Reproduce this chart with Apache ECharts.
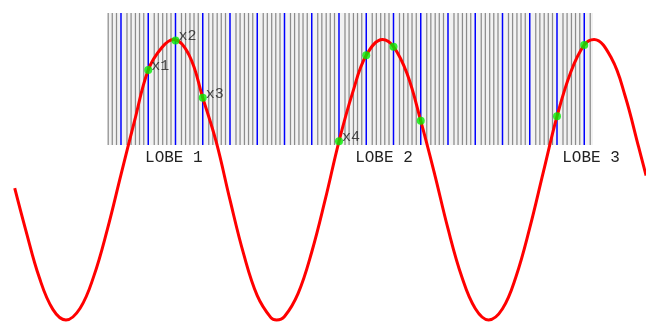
<!DOCTYPE html>
<html><head><meta charset="utf-8">
<script src="https://cdn.jsdelivr.net/npm/echarts@6/dist/echarts.min.js"></script>
<style>html,body{margin:0;padding:0;background:#fff}#c{width:646px;height:322px}</style>
</head><body><div id="c"></div>
<script>
// Curve samples (x in stripe-grid units, y in amplitude units)
const curveX = [-2.9,-2.5,-2,-1.5,-1.02,-0.5,0,0.5,1,1.5,2,2.5,2.93,3.5,4,4.5,5,5.5,6,6.5,6.71,7,7.5,8,8.5,9,9.5,10,10.6,11,11.5,12,12.5,13,13.5,14,14.49,15,15.5,16,16.5,17,17.5,18,18.36,19,19.5,20,20.27];
const curveY = [-0.06,-0.355,-0.696,-0.924,-1,-0.916,-0.689,-0.354,0.036,0.421,0.783,0.943,1,0.889,0.585,0.266,-0.144,-0.529,-0.826,-0.983,-1,-0.975,-0.81,-0.515,-0.137,0.274,0.621,0.887,1,0.949,0.755,0.42,0.048,-0.349,-0.688,-0.918,-1,-0.92,-0.688,-0.344,0.056,0.452,0.765,0.961,1,0.866,0.597,0.23,0.03];

// Marked points
const pointX = [2,3,4,9,10,11,12,17,18];
const pointY = [0.783,0.993,0.585,0.274,0.887,0.949,0.42,0.452,0.961];
const pointLabels = ['x1','x2','x3','x4','','','','',''];

// Lobe labels
const lobeNames = ['LOBE 1','LOBE 2','LOBE 3'];
const lobeX = [2.94,10.65,18.25];

// Stripe band
const stripeStart = 0.52, stripeEnd = 18.32;
const blueTicks = [1,2,3,4,5,6,7,8,9,10,11,12,13,14,15,16,17,18];
const grayOffsets = [0.22,0.37,0.53,0.68,0.835];

const grayTicks = [];
for (let b = 0; b <= 18; b++) {
  grayOffsets.forEach(o => { const p = b + o; if (p >= stripeStart && p <= stripeEnd) grayTicks.push(p); });
}

const BAND_TOP = 13, BAND_BOTTOM = 145, LOBE_LABEL_Y = 158;
const MONO = "'Courier New', 'Liberation Mono', monospace";

const chart = echarts.init(document.getElementById('c'), null, {renderer: 'canvas'});
chart.setOption({
  animation: false,
  grid: {left: 0, right: 0, top: 0, bottom: 0},
  xAxis: {type: 'value', min: -3.440, max: 20.266, show: false},
  yAxis: {type: 'value', min: -1.0143, max: 1.2816, show: false},
  series: [
    {
      type: 'custom', z: 1, silent: true, clip: false,
      data: [[stripeStart, stripeEnd]],
      renderItem: (params, api) => {
        const x0 = api.coord([api.value(0), 0])[0];
        const x1 = api.coord([api.value(1), 0])[0];
        return {type: 'rect', shape: {x: x0, y: BAND_TOP, width: x1 - x0, height: BAND_BOTTOM - BAND_TOP}, style: {fill: '#f2f2f2'}};
      }
    },
    {
      type: 'custom', z: 2, silent: true, clip: false,
      data: grayTicks.map(v => [v, 0]).concat(blueTicks.map(v => [v, 1])),
      renderItem: (params, api) => {
        const x = api.coord([api.value(0), 0])[0];
        const blue = api.value(1) === 1;
        return {type: 'line', shape: {x1: x, y1: BAND_TOP, x2: x, y2: BAND_BOTTOM},
          style: {stroke: blue ? '#0000ff' : '#8c8c8c', lineWidth: blue ? 1.5 : 1.25}};
      }
    },
    {
      type: 'custom', z: 2, silent: true, clip: false,
      data: lobeX.map((x, i) => [x, i]),
      renderItem: (params, api) => {
        const x = api.coord([api.value(0), 0])[0];
        return {type: 'text', x: x, y: LOBE_LABEL_Y,
          style: {text: lobeNames[api.value(1)], font: '16px ' + MONO, fill: '#222', align: 'center', verticalAlign: 'middle'}};
      }
    },
    {
      type: 'line', z: 3, smooth: 0.4, showSymbol: false, clip: false,
      data: curveX.map((x, i) => [x, curveY[i]]),
      lineStyle: {color: '#ff0000', width: 3}
    },
    {
      type: 'scatter', z: 4, symbol: 'circle', symbolSize: 8,
      data: pointX.map((x, i) => [x, pointY[i]]),
      itemStyle: {color: '#00ee00'},
      label: {
        show: true, position: 'right', distance: 0, offset: [-1, -4],
        formatter: p => pointLabels[p.dataIndex],
        fontSize: 15, fontFamily: MONO, color: '#222'
      }
    }
  ]
});
</script>
</body></html>
